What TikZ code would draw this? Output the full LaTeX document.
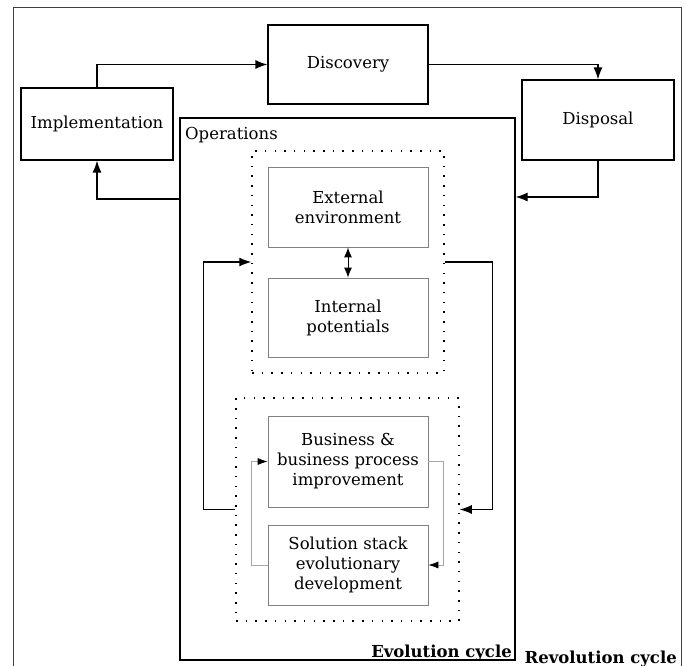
\documentclass[tikz,border=0pt]{standalone}
\usepackage{fontspec}
\setmainfont{DejaVu Serif}
\usetikzlibrary{arrows.meta}

\begin{document}
\begin{tikzpicture}
  [x=1pt,y=-1pt,
   every node/.style={align=center,inner sep=0pt,font=\fontsize{16.5}{20}\selectfont},
   phase/.style={draw,line width=1.2pt,minimum width=152pt,minimum height=72pt},
   area/.style={draw=gray,line width=0.8pt,minimum width=160pt,minimum height=80pt},
   group/.style={draw,line width=1.5pt,dash pattern=on 1.5pt off 8.2pt},
   flow/.style={line width=1.2pt,-{Latex[length=12pt,width=9pt]}},
   loop/.style={draw=gray!70,line width=0.8pt,-{Latex[length=10pt,width=7pt,color=black]}}]
  \useasboundingbox (0,0) rectangle (686,666);
  \draw[black!75,line width=0.8pt] (13,666) -- (13,7) -- (681,7) -- (681,666);

  % revolution cycle
  \node[phase] (impl) at (97,124)   {Implementation};
  \node[phase,minimum width=160pt,minimum height=79pt] (disc) at (348,64.5) {Discovery};
  \node[phase,minimum height=80pt] (disp) at (598,120) {Disposal};
  \node[draw,line width=1.2pt,minimum width=335pt,minimum height=542pt] (ops) at (347.5,389) {};
  \node[anchor=base west] (opsname) at (185,140) {Operations};
  \node[anchor=base east,font=\fontsize{16.5}{20}\selectfont\bfseries] (evo) at (512,657) {Evolution cycle};
  \node[anchor=base east,font=\fontsize{16.5}{20}\selectfont\bfseries] (rev) at (677,663) {Revolution cycle};

  % evolution cycle
  \node[group,minimum width=192pt,minimum height=222pt] (env) at (348,262) {};
  \node[group,minimum width=223pt,minimum height=223pt] (dev) at (347.5,509.5) {};
  \node[area] (ext) at (348,207)   {External\\environment};
  \node[area,minimum height=79pt] (int) at (348,317.5) {Internal\\potentials};
  \node[area,minimum height=91pt] (bus) at (348,461.5) {Business \&\\business process\\improvement};
  \node[area] (sol) at (348,565)   {Solution stack\\evolutionary\\development};

  \coordinate (opsL) at (ops.west |- 0,199);
  \coordinate (opsR) at (ops.east |- 0,197);

  \draw[flow] (impl.north) |- (disc.west);
  \draw[flow] (disc.east) -| (disp.north);
  \draw[flow] (disp.south) |- (opsR);
  \draw[flow] (opsL) -| (impl.south);
  \draw[line width=1pt,{Latex[length=10pt,width=8pt]}-{Latex[length=10pt,width=8pt]}] (ext.south) -- (int.north);
  \draw[flow] (dev.west) -- ++(-32,0) |- (env.west);
  \draw[flow] (env.east) -- ++(48,0) |- (dev.east);
  \draw[loop] (bus.east) -- ++(15,0) |- (sol.east);
  \draw[loop] (sol.west) -- ++(-16,0) |- (bus.west);
\end{tikzpicture}
\end{document}
